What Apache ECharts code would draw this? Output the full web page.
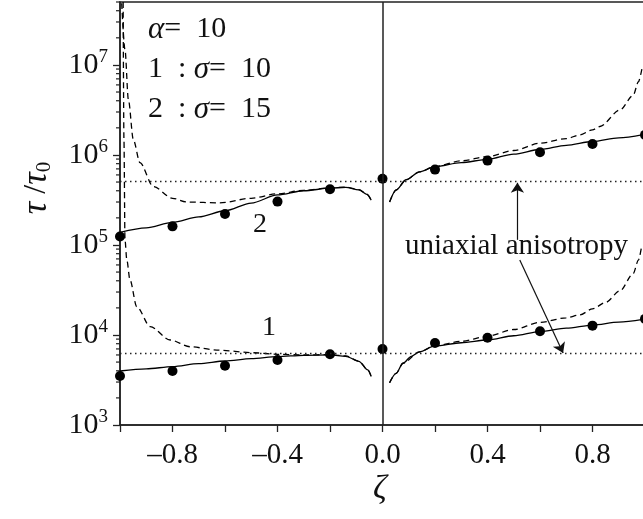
<!DOCTYPE html>
<html>
<head>
<meta charset="utf-8">
<script src="https://cdn.jsdelivr.net/npm/echarts@6/dist/echarts.min.js"></script>
<style>
  html, body { margin: 0; padding: 0; background: #fff; }
  #chart { width: 643px; height: 519px; }
</style>
</head>
<body>
<div id="chart"></div>
<script>
var FONT = "'Liberation Serif', 'Times New Roman', serif";
var INK = '#111';

// measured points (zeta, tau/tau0)
var zetaPts = [-1, -0.8, -0.6, -0.4, -0.2, 0, 0.2, 0.4, 0.6, 0.8, 1.0];
var pts1 = [3.5e3, 3.98e3, 4.56e3, 5.27e3, 6.1e3, 7.0e3, 8.15e3, 9.33e3, 1.1e4, 1.27e4, 1.51e4];
var pts2 = [1.24e5, 1.61e5, 2.21e5, 3.03e5, 4.16e5, 5.45e5, 6.87e5, 8.65e5, 1.07e6, 1.32e6, 1.67e6];

// theory curves, curve 1 (sigma = 10)
var solid1L = [[-1, 3.98e3], [-0.9, 4.2e3], [-0.8, 4.45e3], [-0.7, 4.8e3], [-0.6, 5.14e3], [-0.5, 5.45e3],
  [-0.4, 5.75e3], [-0.3, 5.95e3], [-0.2, 6.0e3], [-0.14, 5.8e3], [-0.09, 5.1e3], [-0.056, 4.1e3], [-0.043, 3.45e3]];
var solid1R = [[0.027, 2.95e3], [0.052, 3.75e3], [0.078, 4.85e3], [0.11, 5.8e3], [0.141, 6.5e3], [0.2, 7.55e3],
  [0.3, 8.2e3], [0.4, 8.8e3], [0.5, 9.8e3], [0.6, 1.09e4], [0.7, 1.19e4], [0.8, 1.29e4], [0.9, 1.39e4], [1.0, 1.5e4]];
var dash1L = [[-0.988, 5e7], [-0.985, 1.5e6], [-0.981, 1.14e5], [-0.974, 6.8e4], [-0.962, 4.1e4], [-0.936, 2.06e4],
  [-0.885, 1.24e4], [-0.809, 8.8e3], [-0.733, 7.4e3], [-0.631, 6.8e3], [-0.492, 6.35e3], [-0.4, 6.1e3],
  [-0.3, 6.0e3], [-0.2, 6.05e3], [-0.14, 5.85e3], [-0.09, 5.12e3], [-0.056, 4.1e3], [-0.043, 3.45e3]];
var dash1R = [[0.027, 2.95e3], [0.052, 3.75e3], [0.078, 4.85e3], [0.141, 6.5e3], [0.2, 7.6e3], [0.3, 8.5e3],
  [0.4, 9.7e3], [0.5, 1.15e4], [0.6, 1.38e4], [0.7, 1.55e4], [0.752, 1.67e4], [0.8, 1.95e4], [0.85, 2.3e4],
  [0.905, 3.1e4], [0.955, 4.8e4], [0.975, 6.8e4], [0.988, 1.0e5]];

// theory curves, curve 2 (sigma = 15)
var solid2L = [[-1, 1.38e5], [-0.9, 1.55e5], [-0.8, 1.78e5], [-0.7, 2.05e5], [-0.6, 2.4e5], [-0.5, 2.92e5],
  [-0.4, 3.6e5], [-0.3, 4.0e5], [-0.2, 4.27e5], [-0.14, 4.37e5], [-0.09, 4.1e5], [-0.06, 3.65e5], [-0.043, 3.15e5]];
var solid2R = [[0.027, 3.0e5], [0.052, 4.08e5], [0.09, 5.3e5], [0.141, 6.5e5], [0.2, 7.4e5], [0.3, 8.2e5],
  [0.4, 8.95e5], [0.5, 1.02e6], [0.6, 1.15e6], [0.7, 1.28e6], [0.8, 1.41e6], [0.9, 1.55e6], [1.0, 1.7e6]];
var dash2L = [[-0.9935, 4.85e7], [-0.981, 1.47e7], [-0.968, 4.1e6], [-0.949, 1.47e6], [-0.924, 8.2e5],
  [-0.873, 4.45e5], [-0.8, 3.3e5], [-0.745, 3.0e5], [-0.62, 2.93e5], [-0.5, 3.3e5], [-0.4, 3.7e5],
  [-0.3, 4.05e5], [-0.2, 4.3e5], [-0.14, 4.4e5], [-0.09, 4.12e5], [-0.06, 3.67e5], [-0.043, 3.15e5]];
var dash2R = [[0.027, 3.0e5], [0.052, 4.08e5], [0.09, 5.3e5], [0.141, 6.5e5], [0.2, 7.45e5], [0.3, 8.6e5],
  [0.4, 9.6e5], [0.5, 1.12e6], [0.6, 1.35e6], [0.7, 1.52e6], [0.752, 1.67e6], [0.8, 1.9e6], [0.828, 2.07e6],
  [0.905, 3.16e6], [0.955, 4.6e6], [0.975, 6.5e6], [0.988, 9.0e6]];

// uniaxial anisotropy levels and the arrows pointing at them
var uniaxial = [5.05e5, 6.26e3];
var arrows = [[[0.514, 1.14e5], [0.514, 4.9e5]], [[0.523, 6.8e4], [0.688, 6.3e3]]];

var xLabels = ['–0.8', '–0.4', '0.0', '0.4', '0.8'];

// minor ticks of the log axis (2..9 per decade)
var minorTicks = [];
for (var e = 3; e <= 7; e++) {
  for (var k = 2; k <= 9; k++) {
    if (k * Math.pow(10, e) <= 5e7) minorTicks.push([-1, k * Math.pow(10, e)]);
  }
}

function pair(xs, ys) { return xs.map(function (x, i) { return [x, ys[i]]; }); }

function curve(data, dashed) {
  return {
    type: 'line', data: data, showSymbol: false, symbol: 'none',
    smooth: 0.3, smoothMonotone: 'x', silent: true,
    lineStyle: { color: '#000', width: 1.3, type: dashed ? [6, 4] : 'solid' }
  };
}

var myChart = echarts.init(document.getElementById('chart'), null, { renderer: 'canvas' });

var option = {
  animation: false,
  backgroundColor: '#fff',
  grid: {
    left: 120, top: 2, right: -2, bottom: 94, outerBoundsMode: 'none',
    show: true, borderColor: '#222', borderWidth: 1.5
  },
  xAxis: {
    type: 'value', min: -1, max: 1, interval: 0.2,
    axisLine: { onZero: false, lineStyle: { color: '#222', width: 1.5 } },
    axisTick: { length: 7, lineStyle: { color: '#222', width: 1.3 } },
    splitLine: { show: false },
    axisLabel: {
      margin: 16, color: INK, fontFamily: FONT, fontSize: 29,
      formatter: function (v) {
        var s = v.toFixed(1).replace('-', '–');
        return xLabels.indexOf(s) >= 0 ? s : '';
      }
    }
  },
  yAxis: {
    type: 'log', logBase: 10, min: 1000, max: 5e7,
    axisLine: { onZero: false, lineStyle: { color: '#222', width: 1.5 } },
    axisTick: { length: 7, lineStyle: { color: '#222', width: 1.3 } },
    splitLine: { show: false },
    axisLabel: {
      margin: 12, showMaxLabel: false,
      formatter: function (v) {
        var p = Math.round(Math.log10(v));
        if (Math.abs(v - Math.pow(10, p)) > 1e-6 * v) return '';
        return '{b|10}{s|' + p + '}';
      },
      rich: {
        b: { fontFamily: FONT, fontSize: 30, color: INK },
        s: { fontFamily: FONT, fontSize: 19, color: INK, padding: [0, 0, 16, 0] }
      }
    }
  },
  series: [
    curve(solid1L, false), curve(solid1R, false), curve(dash1L, true), curve(dash1R, true),
    curve(solid2L, false), curve(solid2R, false), curve(dash2L, true), curve(dash2R, true),
    {
      type: 'scatter', data: pair(zetaPts, pts1).concat(pair(zetaPts, pts2)),
      symbolSize: 10, itemStyle: { color: '#000', opacity: 1 }, silent: true,
      markLine: {
        silent: true, symbol: 'none', label: { show: false },
        data: [
          { xAxis: 0, lineStyle: { type: 'solid', width: 1.5, color: '#222' } },
          { yAxis: uniaxial[0], lineStyle: { type: [1.5, 3.5], width: 1.3, color: '#222' } },
          { yAxis: uniaxial[1], lineStyle: { type: [1.5, 3.5], width: 1.3, color: '#222' } }
        ]
      }
    },
    {
      type: 'line', data: [], silent: true,
      markLine: {
        silent: true, symbol: ['none', 'arrow'], symbolSize: 10, label: { show: false },
        lineStyle: { type: 'solid', width: 1.2, color: '#111' },
        data: arrows.map(function (a) { return [{ coord: a[0] }, { coord: a[1] }]; })
      }
    },
    {
      type: 'custom', data: minorTicks, silent: true, clip: false,
      renderItem: function (params, api) {
        var p = api.coord([api.value(0), api.value(1)]);
        return {
          type: 'line',
          shape: { x1: p[0] - 4, y1: p[1], x2: p[0], y2: p[1] },
          style: { stroke: '#222', lineWidth: 1.2 }
        };
      }
    }
  ],
  graphic: [
    { type: 'text', left: 148, top: 14, style: { text: '{i|α}=  10', font: '30px ' + FONT, fill: INK,
        rich: { i: { fontStyle: 'italic', fontFamily: FONT, fontSize: 31 } } } },
    { type: 'text', left: 148, top: 54, style: { text: '1  : {i|σ}=  10', font: '30px ' + FONT, fill: INK,
        rich: { i: { fontStyle: 'italic', fontFamily: FONT, fontSize: 31 } } } },
    { type: 'text', left: 148, top: 94, style: { text: '2  : {i|σ}=  15', font: '30px ' + FONT, fill: INK,
        rich: { i: { fontStyle: 'italic', fontFamily: FONT, fontSize: 31 } } } },
    { type: 'text', left: 405, top: 232, style: { text: 'uniaxial anisotropy', font: '29px ' + FONT, fill: INK } },
    { type: 'text', left: 253, top: 211, style: { text: '2', font: '28px ' + FONT, fill: INK } },
    { type: 'text', left: 262, top: 314, style: { text: '1', font: '28px ' + FONT, fill: INK } },
    { type: 'text', left: 373, top: 472, style: { text: 'ζ', font: 'italic 34px ' + FONT, fill: INK } },
    {
      type: 'text', x: 37, y: 188, rotation: Math.PI / 2,
      style: {
        text: '{i|τ} /{i|τ}{s|0}', align: 'center', verticalAlign: 'middle', font: '32px ' + FONT, fill: INK,
        rich: {
          i: { fontStyle: 'italic', fontFamily: FONT, fontSize: 35 },
          s: { fontFamily: FONT, fontSize: 21, padding: [14, 0, 0, 0] }
        }
      }
    }
  ]
};

myChart.setOption(option);
</script>
</body>
</html>
